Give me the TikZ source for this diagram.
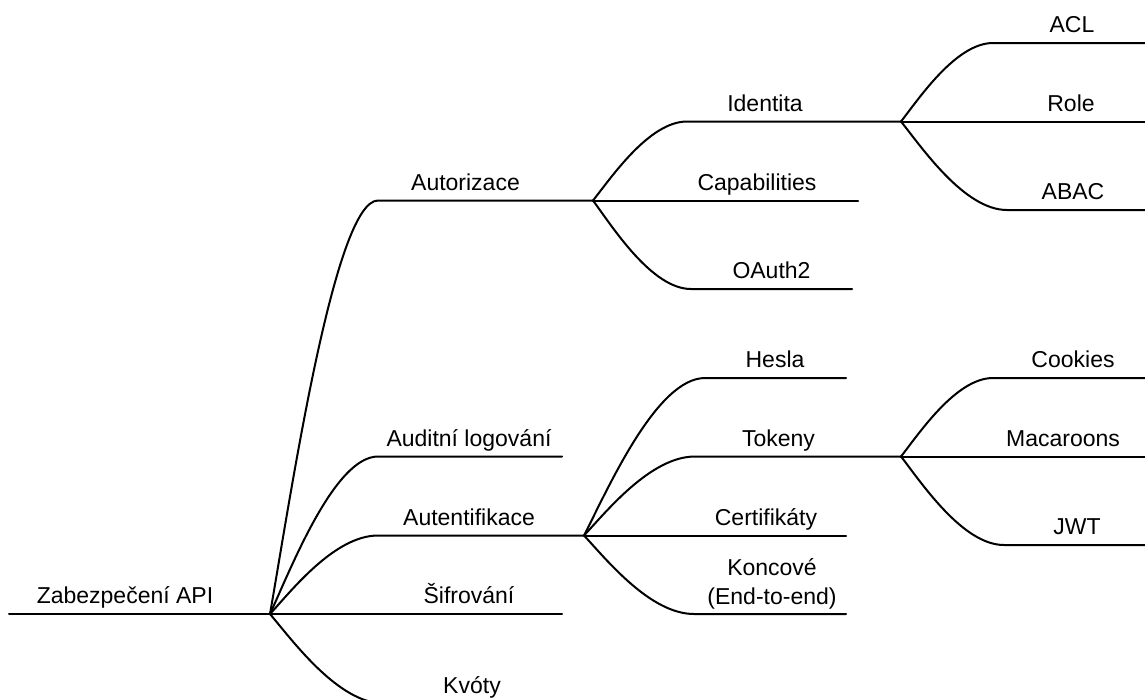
\documentclass[tikz,border=0pt]{standalone}
\usepackage{fontspec}
\setmainfont{Liberation Sans}
\usetikzlibrary{calc}
\tikzset{
  lbl/.style={anchor=base,inner sep=0pt,font=\fontsize{23}{29}\selectfont},
  edge/.style={line width=2pt,line cap=round,line join=round},
  branch/.style={to path={let \p1=(\tikztostart), \p2=(\tikztotarget) in
     .. controls ({\x1+0.2*(\x2-\x1)},{\y1+0.3*(\y2-\y1)}) and ({\x1+0.6*(\x2-\x1)},\y2) .. (\tikztotarget)}}
}
\begin{document}
\begin{tikzpicture}[x=1pt,y=-1pt]
\useasboundingbox (0,0) rectangle (1145,699);
% labels
\node[lbl] (root) at (125,603.5) {Zabezpečení API};
\node[lbl] (autz) at (465.5,190) {Autorizace};
\node[lbl] (aud) at (469,446) {Auditní logování};
\node[lbl] (autn) at (469,525) {Autentifikace};
\node[lbl] (sif) at (469,603.5) {Šifrování};
\node[lbl] (kvo) at (472,693) {Kvóty};
\node[lbl] (ident) at (765,111) {Identita};
\node[lbl] (cap) at (757,190) {Capabilities};
\node[lbl] (oauth) at (771.5,278.5) {OAuth2};
\node[lbl] (acl) at (1072,32.5) {ACL};
\node[lbl] (role) at (1071,111) {Role};
\node[lbl] (abac) at (1073,199.5) {ABAC};
\node[lbl] (hes) at (775,367.5) {Hesla};
\node[lbl] (tok) at (778.5,446) {Tokeny};
\node[lbl] (cer) at (766,525) {Certifikáty};
\node[anchor=south,inner sep=0pt,align=center,font=\fontsize{23}{29}\selectfont] (kon) at (772,609) {Koncové\\(End-to-end)};
\node[lbl] (cook) at (1073,367.5) {Cookies};
\node[lbl] (mac) at (1063,446) {Macaroons};
\node[lbl] (jwt) at (1077,534.5) {JWT};
% coordinates
\coordinate (rootL) at (9,614);
\coordinate (j0) at (270,614);
\coordinate (autzS) at (378,200.5);
\coordinate (j1) at (593,200.5);
\coordinate (audS) at (378,456.5);
\coordinate (audE) at (562,456.5);
\coordinate (autnS) at (378,535.5);
\coordinate (j2) at (584,535.5);
\coordinate (sifE) at (562,614);
\coordinate (kvoS) at (384,703.5);
\coordinate (kvoE) at (562,703.5);
\coordinate (identS) at (687,121.5);
\coordinate (j3) at (901,121.5);
\coordinate (capE) at (858,200.5);
\coordinate (oauthS) at (691,289);
\coordinate (oauthE) at (852,289);
\coordinate (aclS) at (993,43);
\coordinate (aclE) at (1146,43);
\coordinate (roleE) at (1146,121.5);
\coordinate (abacS) at (1007,210);
\coordinate (abacE) at (1146,210);
\coordinate (hesS) at (705,378);
\coordinate (hesE) at (846,378);
\coordinate (tokS) at (695,456.5);
\coordinate (j4) at (901,456.5);
\coordinate (cerE) at (846,535.5);
\coordinate (konS) at (694,614);
\coordinate (konE) at (846,614);
\coordinate (cookS) at (993,378);
\coordinate (cookE) at (1146,378);
\coordinate (macE) at (1146,456.5);
\coordinate (jwtS) at (1004,545);
\coordinate (jwtE) at (1146,545);
% connectors
\draw[edge] (rootL) -- (j0);
\draw[edge] (j0) to[branch] (autzS) -- (j1);
\draw[edge] (j0) to[branch] (audS) -- (audE);
\draw[edge] (j0) to[branch] (autnS) -- (j2);
\draw[edge] (j0) -- (sifE);
\draw[edge] (j0) to[branch] (kvoS) -- (kvoE);
\draw[edge] (j1) to[branch] (identS) -- (j3);
\draw[edge] (j1) -- (capE);
\draw[edge] (j1) to[branch] (oauthS) -- (oauthE);
\draw[edge] (j3) to[branch] (aclS) -- (aclE);
\draw[edge] (j3) -- (roleE);
\draw[edge] (j3) to[branch] (abacS) -- (abacE);
\draw[edge] (j2) to[branch] (hesS) -- (hesE);
\draw[edge] (j2) to[branch] (tokS) -- (j4);
\draw[edge] (j2) -- (cerE);
\draw[edge] (j2) to[branch] (konS) -- (konE);
\draw[edge] (j4) to[branch] (cookS) -- (cookE);
\draw[edge] (j4) -- (macE);
\draw[edge] (j4) to[branch] (jwtS) -- (jwtE);
\end{tikzpicture}
\end{document}
